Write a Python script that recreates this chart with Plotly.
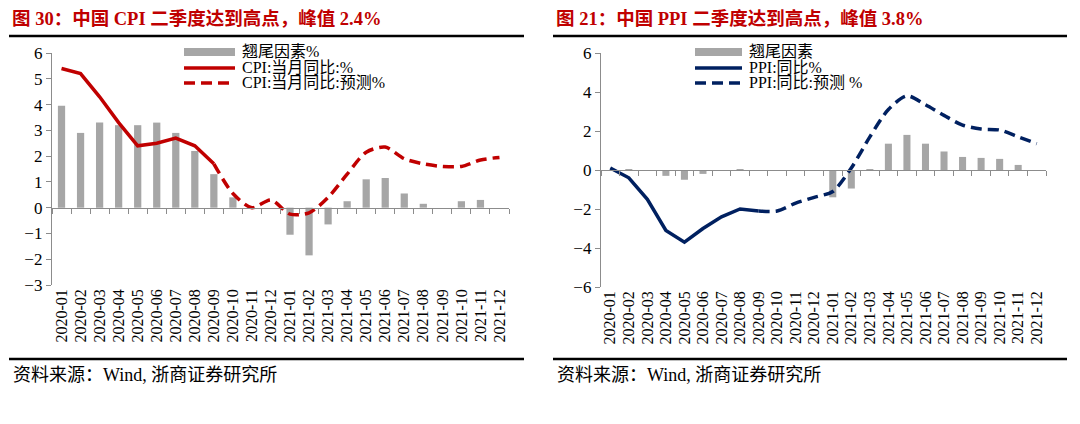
import plotly.graph_objects as go

months = ["2020-01", "2020-02", "2020-03", "2020-04", "2020-05", "2020-06",
          "2020-07", "2020-08", "2020-09", "2020-10", "2020-11", "2020-12",
          "2021-01", "2021-02", "2021-03", "2021-04", "2021-05", "2021-06",
          "2021-07", "2021-08", "2021-09", "2021-10", "2021-11", "2021-12"]

cpi_carry = [3.95, 2.9, 3.3, 3.2, 3.2, 3.3, 2.9, 2.2, 1.3, 0.4, 0.0, 0.0,
             -1.05, -1.85, -0.65, 0.25, 1.1, 1.15, 0.55, 0.15, 0.0, 0.25, 0.3, 0.0]
cpi_actual = [5.4, 5.2, 4.3, 3.3, 2.4, 2.5, 2.7, 2.4, 1.7]
cpi_forecast = [1.7, 0.55, 0.0, 0.3, -0.25, -0.2, 0.4, 1.3, 2.15, 2.35,
                1.9, 1.7, 1.6, 1.6, 1.85, 1.95]

ppi_carry = [0.0, 0.05, 0.0, -0.3, -0.5, -0.2, 0.0, 0.05, 0.0, -0.05, 0.0, 0.0,
             -1.4, -0.95, 0.03, 1.35, 1.8, 1.35, 0.95, 0.67, 0.62, 0.57, 0.26, 0.0]
ppi_actual = [0.1, -0.4, -1.5, -3.1, -3.7, -3.0, -2.4, -2.0, -2.1]
ppi_forecast = [-2.1, -2.1, -1.7, -1.4, -1.1, 0.1, 1.7, 3.1, 3.8, 3.35,
                2.8, 2.3, 2.1, 2.05, 1.7, 1.35]

title_left = "图 30：中国 CPI 二季度达到高点，峰值 2.4%"
title_right = "图 21：中国 PPI 二季度达到高点，峰值 3.8%"
source_text = "资料来源：Wind, 浙商证券研究所"
leg_left = ["翘尾因素%", "CPI:当月同比:%", "CPI:当月同比:预测%"]
leg_right = ["翘尾因素", "PPI:同比%", "PPI:同比:预测 %"]

W, H = 1080, 424
OX, OY = 8, 8  # page body margin compensation
SERIF = "Liberation Serif, Noto Sans CJK SC, serif"
GRAY = "#A6A6A6"
AXIS = "#8C8C8C"
RED = "#C00000"
NAVY = "#002060"
TITLE_RED = "#C00000"

def px_x(x):
    return (x - OX) / W

def px_y(y):
    return 1 - (y - OY) / H

L_dom = [px_x(52), px_x(509)]
R_dom = [px_x(601), px_x(1046)]
L_ydom = [px_y(285), px_y(53)]
R_ydom = [px_y(287), px_y(53)]
L_range = [-3, 6]
R_range = [-6, 6]

fig = go.Figure()

# Left chart
fig.add_trace(go.Bar(x=months, y=cpi_carry, marker_color=GRAY, width=0.38,
                     xaxis="x", yaxis="y", name=leg_left[0], showlegend=False))
fig.add_trace(go.Scatter(x=months[:len(cpi_actual)], y=cpi_actual, mode="lines",
                         line=dict(color=RED, width=3.5), xaxis="x", yaxis="y",
                         showlegend=False))
fig.add_trace(go.Scatter(x=months[len(cpi_actual) - 1:], y=cpi_forecast, mode="lines",
                         line=dict(color=RED, width=3.5, dash="11px,6px",
                                   shape="spline", smoothing=0.8),
                         xaxis="x", yaxis="y", showlegend=False))
fig.add_trace(go.Scatter(x=months, y=[0] * len(months), mode="lines",
                         line=dict(width=0), opacity=0, hoverinfo="skip",
                         xaxis="x3", yaxis="y", showlegend=False))

# Right chart
fig.add_trace(go.Bar(x=months, y=ppi_carry, marker_color=GRAY, width=0.38,
                     xaxis="x2", yaxis="y2", showlegend=False))
fig.add_trace(go.Scatter(x=months[:len(ppi_actual)], y=ppi_actual, mode="lines",
                         line=dict(color=NAVY, width=3.5), xaxis="x2", yaxis="y2",
                         showlegend=False))
fig.add_trace(go.Scatter(x=months[len(ppi_actual) - 1:], y=ppi_forecast, mode="lines",
                         line=dict(color=NAVY, width=3.5, dash="11px,6px",
                                   shape="spline", smoothing=0.8),
                         xaxis="x2", yaxis="y2", showlegend=False))
fig.add_trace(go.Scatter(x=months, y=[0] * len(months), mode="lines",
                         line=dict(width=0), opacity=0, hoverinfo="skip",
                         xaxis="x4", yaxis="y2", showlegend=False))

def zero_pos(ydom, yr):
    return ydom[0] + (0 - yr[0]) / (yr[1] - yr[0]) * (ydom[1] - ydom[0])

xlab = dict(type="category", categoryorder="array", categoryarray=months,
            range=[-0.5, len(months) - 0.5], tickangle=-90, showline=False,
            tickmode="array", tickvals=months, ticktext=months,
            ticks="", showgrid=False, zeroline=False, automargin=False,
            tickfont=dict(family=SERIF, size=16, color="#000000"))
xtick = dict(type="category", categoryorder="array", categoryarray=months,
             range=[-0.5, len(months) - 0.5], showticklabels=False, showline=True,
             linecolor=AXIS, linewidth=1.3, ticks="outside", ticklen=5,
             tickcolor=AXIS, tickwidth=1.3, tickson="boundaries", dtick=1,
             showgrid=False, zeroline=False, anchor="free", automargin=False)
yax = dict(showline=True, linecolor=AXIS, linewidth=1.3, ticks="outside",
           ticklen=5, tickcolor=AXIS, tickwidth=1.3, showgrid=False,
           zeroline=False, automargin=False,
           tickfont=dict(family=SERIF, size=17, color="#000000"))

fig.update_layout(
    template="none",
    width=W, height=H, autosize=False,
    margin=dict(l=0, r=0, t=0, b=0, pad=0),
    paper_bgcolor="white", plot_bgcolor="white",
    showlegend=False,
    bargap=0.5,
    xaxis=dict(**xlab, domain=L_dom, anchor="y"),
    xaxis2=dict(**xlab, domain=R_dom, anchor="y2"),
    xaxis3=dict(**xtick, domain=L_dom, overlaying="x",
                position=zero_pos(L_ydom, L_range)),
    xaxis4=dict(**xtick, domain=R_dom, overlaying="x2",
                position=zero_pos(R_ydom, R_range)),
    yaxis=dict(**yax, domain=L_ydom, range=L_range, dtick=1, anchor="x"),
    yaxis2=dict(**yax, domain=R_ydom, range=R_range, dtick=2, anchor="x2"),
)

shapes = []
annotations = []

# titles and rules
for x0, x1, title in [(9, 524, title_left), (553, 1067, title_right)]:
    shapes.append(dict(type="line", xref="paper", yref="paper",
                       x0=px_x(x0), x1=px_x(x1), y0=px_y(36), y1=px_y(36),
                       line=dict(color="#000000", width=2.5)))
    shapes.append(dict(type="line", xref="paper", yref="paper",
                       x0=px_x(x0), x1=px_x(x1), y0=px_y(359), y1=px_y(359),
                       line=dict(color="#000000", width=2.5)))
    annotations.append(dict(xref="paper", yref="paper", x=px_x(x0 + 1), y=px_y(18),
                            xanchor="left", yanchor="middle", showarrow=False,
                            text="<b>" + title + "</b>",
                            font=dict(family=SERIF, size=18.5, color=TITLE_RED)))
    annotations.append(dict(xref="paper", yref="paper", x=px_x(x0 + 2), y=px_y(375),
                            xanchor="left", yanchor="middle", showarrow=False,
                            text=source_text,
                            font=dict(family=SERIF, size=18, color="#000000")))

# legends (drawn manually)
def legend(x_sw0, x_sw1, x_txt, labels, color):
    ys = [52, 68, 83]
    shapes.append(dict(type="rect", xref="paper", yref="paper",
                       x0=px_x(x_sw0), x1=px_x(x_sw1), y0=px_y(ys[0] + 4), y1=px_y(ys[0] - 4),
                       fillcolor=GRAY, line=dict(width=0)))
    shapes.append(dict(type="line", xref="paper", yref="paper",
                       x0=px_x(x_sw0), x1=px_x(x_sw1), y0=px_y(ys[1]), y1=px_y(ys[1]),
                       line=dict(color=color, width=3.5)))
    shapes.append(dict(type="line", xref="paper", yref="paper",
                       x0=px_x(x_sw0), x1=px_x(x_sw1), y0=px_y(ys[2]), y1=px_y(ys[2]),
                       line=dict(color=color, width=3.5, dash="11px,6px")))
    for yy, lab in zip(ys, labels):
        annotations.append(dict(xref="paper", yref="paper", x=px_x(x_txt), y=px_y(yy),
                                xanchor="left", yanchor="middle", showarrow=False,
                                text=lab,
                                font=dict(family=SERIF, size=16, color="#000000")))

legend(184, 235, 240, leg_left, RED)
legend(695, 742, 747, leg_right, NAVY)

fig.update_layout(shapes=shapes, annotations=annotations)

fig.write_html("out.html")
